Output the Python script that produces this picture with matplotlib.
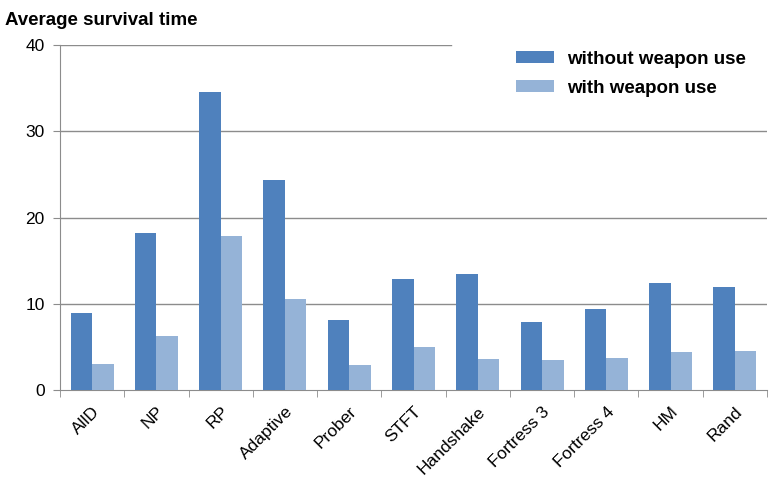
import numpy as np
import matplotlib.pyplot as plt

plt.rcParams['font.family'] = ['Liberation Sans', 'DejaVu Sans']

strategies = ['AllD', 'NP', 'RP', 'Adaptive', 'Prober', 'STFT', 'Handshake',
              'Fortress 3', 'Fortress 4', 'HM', 'Rand']
without_weapon = [8.9, 18.2, 34.6, 24.3, 8.1, 12.9, 13.4, 7.85, 9.35, 12.35, 12.0]
with_weapon = [3.0, 6.3, 17.9, 10.6, 2.9, 5.0, 3.55, 3.45, 3.75, 4.45, 4.55]

dark = '#4F81BD'
light = '#95B3D7'
grey = '#8C8C8C'

fig = plt.figure(figsize=(7.75, 4.79), dpi=100)
ax = fig.add_axes([0.0774, 0.1858, 0.9123, 0.7202])

x = np.arange(len(strategies))
w = 0.335
ax.bar(x - w/2, without_weapon, w, color=dark, label='without weapon use', zorder=3)
ax.bar(x + w/2, with_weapon, w, color=light, label='with weapon use', zorder=3)

ax.set_xlim(-0.5, len(strategies) - 0.5)
ax.set_ylim(0, 40)
ax.set_yticks([0, 10, 20, 30, 40])
for v in [10, 20, 30]:
    ax.axhline(v, color=grey, lw=1, zorder=1)
ax.axhline(40, xmax=0.553, color=grey, lw=1, zorder=1)

ax.set_xticks(x)
ax.set_xticklabels(strategies, rotation=45, ha='right', rotation_mode='anchor', fontsize=12.5)
ax.tick_params(axis='x', length=0, pad=10)
ax.set_xticks(np.arange(len(strategies) + 1) - 0.5, minor=True)
ax.tick_params(axis='x', which='minor', length=5, color=grey, direction='out')
ax.tick_params(axis='y', length=5, color=grey, labelsize=12.5, pad=6)

for s in ['top', 'right']:
    ax.spines[s].set_visible(False)
for s in ['left', 'bottom']:
    ax.spines[s].set_color(grey)

fig.text(0.006, 0.975, 'Average survival time', fontsize=13.5, fontweight='bold', va='top')

leg = ax.legend(loc='upper right', bbox_to_anchor=(0.975, 0.995), frameon=False,
                borderaxespad=0, borderpad=0.2,
                prop={'weight': 'bold', 'size': 13.5}, handlelength=2.0, handleheight=0.65,
                labelspacing=0.65, handletextpad=0.7)

fig.savefig('out.png', dpi=100)
